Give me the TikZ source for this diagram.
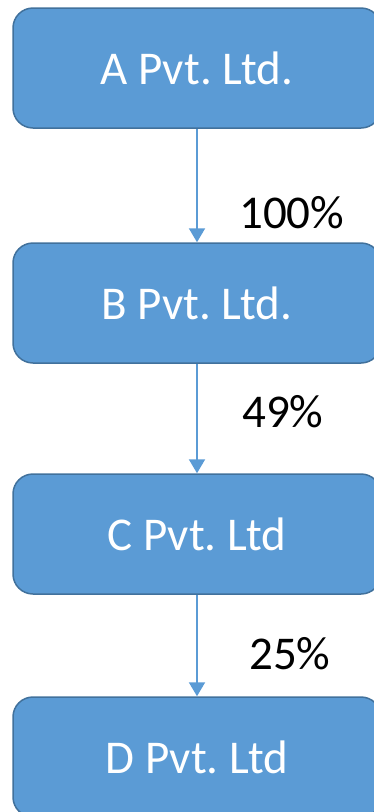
\documentclass[tikz,border=0pt]{standalone}
\usepackage{fontspec}
\setmainfont{Carlito}
\frenchspacing
\usetikzlibrary{arrows.meta}
\definecolor{boxfill}{HTML}{5B9BD5}
\definecolor{boxline}{HTML}{41719C}
\begin{document}
\begin{tikzpicture}[x=1pt,y=-1pt,
  firm/.style={draw=boxline, line width=1.5pt, fill=boxfill, rounded corners=20pt,
    minimum width=368pt, minimum height=120pt, text=white,
    font=\fontsize{47}{56}\selectfont, inner sep=0pt},
  share/.style={draw=boxfill, line width=2pt, -{Triangle[width=16pt,length=14pt]}},
  pct/.style={font=\fontsize{47}{56}\selectfont, anchor=base west, inner sep=0pt}]
\useasboundingbox (0,0) rectangle (374,812);
\clip (0,0) rectangle (374,812);
% the four companies
\node[firm] (a) at (197,68)  {A Pvt. Ltd.};
\node[firm] (b) at (197,303) {B Pvt. Ltd.};
\node[firm] (c) at (197,534) {C Pvt. Ltd};
\node[firm] (d) at (197,757) {D Pvt. Ltd};
% shareholdings
\draw[share] (a) -- (b);
\draw[share] (b) -- (c);
\draw[share] (c) -- (d);
\node[pct] (pab) at (239,228) {100\%};
\node[pct] (pbc) at (242,427) {49\%};
\node[pct] (pcd) at (249,669) {25\%};
\end{tikzpicture}
\end{document}
